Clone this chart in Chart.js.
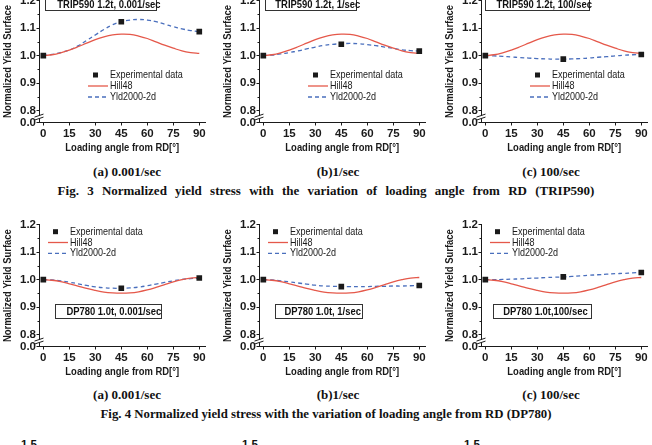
<!DOCTYPE html>
<html>
<head>
<meta charset="utf-8">
<script src="https://cdn.jsdelivr.net/npm/chart.js@4.4.0/dist/chart.umd.min.js"></script>
<style>
  body { margin: 0; width: 652px; height: 445px; overflow: hidden; background: #fff; position: relative; }
  canvas { position: absolute; }
  .tag { position: absolute; box-sizing: border-box; border: 1px solid #333; background: #fff; color: #111;
         font: bold 11.5px "Liberation Sans", sans-serif; text-align: center; line-height: 14px; white-space: nowrap; }
  .tag span { display: inline-block; transform: scaleX(0.82); }
  .cap { position: absolute; left: 0; width: 652px; text-align: center; color: #111;
         font: bold 13px "Liberation Serif", serif; line-height: 16px; }
  .sub { position: absolute; width: 120px; text-align: center; color: #111; font: bold 13px "Liberation Serif", serif; line-height: 16px; }
  .frag { position: absolute; font: bold 11.5px "Liberation Sans", sans-serif; color: #111; }
</style>
</head>
<body>
<canvas id="c1" width="215" height="165" style="left:0;top:-10px"></canvas>
<canvas id="c2" width="215" height="165" style="left:220px;top:-10px"></canvas>
<canvas id="c3" width="215" height="165" style="left:442px;top:-10px"></canvas>
<canvas id="c4" width="215" height="165" style="left:0;top:214px"></canvas>
<canvas id="c5" width="215" height="165" style="left:220px;top:214px"></canvas>
<canvas id="c6" width="215" height="165" style="left:442px;top:214px"></canvas>

<div class="tag" style="left:45px;top:-8px;width:112px;height:19px;line-height:22px"><span>TRIP590 1.2t, 0.001/sec</span></div>
<div class="tag" style="left:265px;top:-8px;width:92px;height:19px;line-height:22px"><span>TRIP590 1.2t, 1/sec</span></div>
<div class="tag" style="left:485px;top:-8px;width:105px;height:19px;line-height:22px"><span>TRIP590 1.2t, 100/sec</span></div>
<div class="tag" style="left:55px;top:304px;width:107px;height:15px;line-height:13px"><span>DP780 1.0t, 0.001/sec</span></div>
<div class="tag" style="left:275px;top:304px;width:88px;height:15px;line-height:13px"><span>DP780 1.0t, 1/sec</span></div>
<div class="tag" style="left:493px;top:304px;width:99px;height:15px;line-height:13px"><span>DP780 1.0t,100/sec</span></div>

<div class="sub" style="left:67px;top:164px">(a) 0.001/sec</div>
<div class="sub" style="left:278px;top:164px">(b)1/sec</div>
<div class="sub" style="left:491px;top:164px">(c) 100/sec</div>
<div class="cap" style="top:183px;word-spacing:5px">Fig. 3 Normalized yield stress with the variation of loading angle from RD (TRIP590)</div>
<div class="sub" style="left:67px;top:387px">(a) 0.001/sec</div>
<div class="sub" style="left:278px;top:387px">(b)1/sec</div>
<div class="sub" style="left:491px;top:387px">(c) 100/sec</div>
<div class="cap" style="top:406px;font-size:12.8px">Fig. 4 Normalized yield stress with the variation of loading angle from RD (DP780)</div>

<div class="frag" style="left:21px;top:438px">1.5</div>
<div class="frag" style="left:242px;top:438px">1.5</div>
<div class="frag" style="left:464px;top:438px">1.5</div>

<script>
// loading angles (deg) for model curves and experiments
const angles = [0, 5, 10, 15, 20, 25, 30, 35, 40, 45, 50, 55, 60, 65, 70, 75, 80, 85, 90];
const expAngles = [0, 45, 90];

// TRIP590 (Fig. 3)
const hill48Trip = [1.000, 1.003, 1.010, 1.020, 1.032, 1.045, 1.058, 1.068, 1.075, 1.078, 1.077, 1.071, 1.062, 1.050, 1.038, 1.027, 1.017, 1.011, 1.008];
const yldTrip001 = [1.000, 1.004, 1.011, 1.020, 1.035, 1.055, 1.075, 1.095, 1.112, 1.123, 1.129, 1.131, 1.129, 1.123, 1.114, 1.105, 1.097, 1.091, 1.087];
const yldTrip1 = [1.000, 1.002, 1.006, 1.011, 1.017, 1.024, 1.031, 1.037, 1.041, 1.043, 1.044, 1.043, 1.040, 1.036, 1.031, 1.026, 1.021, 1.018, 1.016];
const yldTrip100 = [1.000, 0.999, 0.997, 0.995, 0.993, 0.991, 0.989, 0.988, 0.987, 0.987, 0.988, 0.989, 0.991, 0.994, 0.996, 0.999, 1.001, 1.003, 1.004];
const expTrip001 = [1.000, 1.123, 1.087];
const expTrip1 = [1.000, 1.041, 1.016];
const expTrip100 = [1.000, 0.987, 1.004];

// DP780 (Fig. 4)
const hill48Dp = [1.000, 0.998, 0.993, 0.985, 0.977, 0.968, 0.961, 0.955, 0.952, 0.951, 0.952, 0.956, 0.963, 0.972, 0.982, 0.992, 1.000, 1.006, 1.008];
const yldDp001 = [1.000, 0.999, 0.996, 0.991, 0.985, 0.979, 0.974, 0.971, 0.969, 0.969, 0.970, 0.973, 0.978, 0.984, 0.990, 0.996, 1.001, 1.004, 1.006];
const yldDp1 = [1.000, 0.999, 0.996, 0.992, 0.988, 0.984, 0.980, 0.977, 0.976, 0.975, 0.975, 0.975, 0.975, 0.976, 0.976, 0.977, 0.977, 0.978, 0.978];
const yldDp100 = [1.000, 1.000, 1.001, 1.002, 1.003, 1.005, 1.006, 1.008, 1.009, 1.010, 1.012, 1.014, 1.016, 1.018, 1.020, 1.022, 1.023, 1.025, 1.026];
const expDp001 = [1.000, 0.969, 1.006];
const expDp1 = [1.000, 0.975, 0.979];
const expDp100 = [1.000, 1.010, 1.026];

// axes (broken y axis: "0.0" sits just under 0.8)
const xTicks = [0, 15, 30, 45, 60, 75, 90];
const yTickValues = [0.757, 0.8, 0.9, 1.0, 1.1, 1.2];
const yTickLabels = ['0.0', '0.8', '0.9', '1.0', '1.1', '1.2'];
const yMinorTicks = [0.85, 0.95, 1.05, 1.15];
const seriesNames = ['Experimental data', 'Hill48', 'Yld2000-2d'];
const xTitle = 'Loading angle from RD[°]';
const yTitle = 'Normalized Yield Surface';

const sans = '"Liberation Sans", sans-serif';
const ink = '#1a1a1a';
const redLine = '#e5584a';
const blueLine = '#4a6fbd';
const squeeze = 0.82; // the source uses a narrow face

function narrowText(ctx, text, x, y, align) {
  ctx.save();
  ctx.translate(x, y);
  ctx.scale(squeeze, 1);
  ctx.textAlign = align;
  ctx.fillText(text, 0, 0);
  ctx.restore();
}

const decor = {
  id: 'decor',
  afterDraw(chart, args, opts) {
    const { ctx, chartArea } = chart;
    const y = chart.scales.y;
    const ax = chartArea.left;
    ctx.save();
    ctx.strokeStyle = ink;
    ctx.fillStyle = ink;
    ctx.lineWidth = 1;
    // minor ticks on y
    yMinorTicks.forEach(v => {
      const py = Math.round(y.getPixelForValue(v)) + 0.5;
      ctx.beginPath(); ctx.moveTo(ax - 2, py); ctx.lineTo(ax, py); ctx.stroke();
    });
    // axis break marks
    const by = (y.getPixelForValue(0.8) + y.getPixelForValue(0.757)) / 2 + 0.5;
    ctx.fillStyle = '#fff';
    ctx.fillRect(ax - 2, by - 1.5, 4, 3);
    ctx.fillStyle = ink;
    [by - 1.5, by + 1.5].forEach(yy => {
      ctx.beginPath(); ctx.moveTo(ax - 5, yy + 1.5); ctx.lineTo(ax + 4, yy - 1.5); ctx.stroke();
    });
    // axis titles
    ctx.textBaseline = 'middle';
    ctx.font = 'bold 11.5px ' + sans;
    narrowText(ctx, xTitle, (chartArea.left + chartArea.right) / 2, 158, 'center');
    ctx.save();
    ctx.translate(8, (chartArea.top + chartArea.bottom) / 2);
    ctx.rotate(-Math.PI / 2);
    narrowText(ctx, yTitle, 0, 0, 'center');
    ctx.restore();
    // legend
    const ds = chart.data.datasets;
    const lx = opts.x, ly = opts.y, gap = opts.gap;
    ctx.font = '11px ' + sans;
    ctx.fillRect(lx + 5, ly - 2.5, 5, 5);
    narrowText(ctx, ds[0].label, lx + 22, ly, 'left');
    ctx.strokeStyle = ds[1].borderColor; ctx.lineWidth = 1.3;
    ctx.beginPath(); ctx.moveTo(lx, ly + gap); ctx.lineTo(lx + 20, ly + gap); ctx.stroke();
    narrowText(ctx, ds[1].label, lx + 22, ly + gap, 'left');
    ctx.strokeStyle = ds[2].borderColor; ctx.setLineDash([4, 3]);
    ctx.beginPath(); ctx.moveTo(lx, ly + 2 * gap); ctx.lineTo(lx + 20, ly + 2 * gap); ctx.stroke();
    ctx.setLineDash([]);
    narrowText(ctx, ds[2].label, lx + 22, ly + 2 * gap, 'left');
    ctx.restore();
  }
};

function makePanel(id, hill, yld, exp, padTop, legend) {
  const pts = (xs, ys) => xs.map((x, i) => ({ x, y: ys[i] }));
  new Chart(document.getElementById(id), {
    type: 'line',
    data: {
      datasets: [
        { label: seriesNames[0], data: pts(expAngles, exp), showLine: false, pointStyle: 'rect',
          pointRadius: 4, backgroundColor: ink, borderColor: ink, borderWidth: 0 },
        { label: seriesNames[1], data: pts(angles, hill), borderColor: redLine, borderWidth: 1.3,
          pointRadius: 0, tension: 0.4, fill: false },
        { label: seriesNames[2], data: pts(angles, yld), borderColor: blueLine, borderWidth: 1.3,
          borderDash: [4, 3], pointRadius: 0, tension: 0.4, fill: false }
      ]
    },
    options: {
      responsive: false,
      animation: false,
      layout: { padding: { top: padTop, right: 10, bottom: 0, left: 0 } },
      plugins: { legend: { display: false }, tooltip: { enabled: false }, decor: legend },
      scales: {
        x: {
          type: 'linear', min: -2.2, max: 93.3,
          afterBuildTicks: s => { s.ticks = xTicks.map(v => ({ value: v })); },
          afterFit: s => { s.height = 32.5; },
          ticks: { color: ink, padding: 1, font: { family: sans, size: 11.5, weight: 'bold' } },
          grid: { drawOnChartArea: false, tickLength: 3, tickColor: ink },
          border: { color: ink, width: 1 }
        },
        y: {
          type: 'linear', min: 0.757, max: 1.2,
          afterBuildTicks: s => { s.ticks = yTickValues.map(v => ({ value: v })); },
          afterFit: s => { s.width = 39.5; },
          ticks: { color: ink, padding: 0.5, callback: (v, i) => yTickLabels[i],
                   font: { family: sans, size: 11.5, weight: 'bold' } },
          grid: { drawOnChartArea: false, tickLength: 3, tickColor: ink },
          border: { color: ink, width: 1 }
        }
      }
    },
    plugins: [decor]
  });
}

const topLegend = { x: 88, y: 85, gap: 11 };
const botLegend = { x: 48, y: 17.7, gap: 10.8 };

makePanel('c1', hill48Trip, yldTrip001, expTrip001, 10.5, topLegend);
makePanel('c2', hill48Trip, yldTrip1, expTrip1, 10.5, topLegend);
makePanel('c3', hill48Trip, yldTrip100, expTrip100, 10.5, topLegend);
makePanel('c4', hill48Dp, yldDp001, expDp001, 10.7, botLegend);
makePanel('c5', hill48Dp, yldDp1, expDp1, 10.7, botLegend);
makePanel('c6', hill48Dp, yldDp100, expDp100, 10.7, botLegend);
</script>
</body>
</html>
